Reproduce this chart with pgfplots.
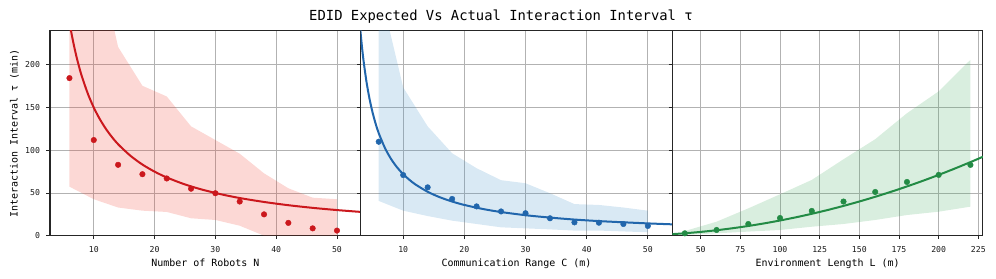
\documentclass[border=0pt]{standalone}
\usepackage{fontspec}
\setmainfont{DejaVu Sans Mono}
\usepackage{pgfplots}
\pgfplotsset{compat=1.18}
\definecolor{cred}{RGB}{203,24,29}
\definecolor{cblue}{RGB}{33,102,172}
\definecolor{cgreen}{RGB}{35,139,69}
\definecolor{fred}{RGB}{239,59,44}
\definecolor{fblue}{RGB}{66,146,198}
\definecolor{fgreen}{RGB}{65,171,93}
\pgfplotsset{
  panel/.style={
    anchor=south west, scale only axis, height=205bp,
    ymin=0, ymax=240,
    ytick={0,50,100,150,200},
    grid=major,
    major grid style={color=black!30, line width=0.9bp},
    axis line style={color=black!85, line width=1.1bp},
    tick align=outside,
    major tick length=3.5bp,
    every tick/.style={color=black!85, line width=0.9bp},
    xtick pos=bottom, ytick pos=left,
    /pgf/number format/assume math mode=true,
    ticklabel style={font=\fontsize{8.2}{9}\selectfont, color=black!90},
    xticklabel style={yshift=-3.5bp},
    yticklabel style={xshift=-3bp},
    label style={font=\fontsize{9.7}{11}\selectfont},
    every axis x label/.style={at={(axis description cs:0.5,0)}, anchor=base, yshift=-31bp},
    clip=true,
  }
}
\begin{document}
\begin{tikzpicture}
\path[use as bounding box] (0,0) rectangle (996bp,279bp);
\node[anchor=base, font=\fontsize{13.9}{16}\selectfont] at (501bp,258.3bp) {EDID Expected Vs Actual Interaction Interval τ};
% Left panel
\begin{axis}[panel, at={(50bp,43.3bp)}, width=310.7bp,
  xmin=2.8, xmax=53.9, xtick={10,20,30,40,50},
  xlabel={Number of Robots N},
  ylabel={Interaction Interval τ (min)},
  every axis y label/.style={at={(axis description cs:-0.1143,0.5)}, rotate=90, anchor=center},
]
\addplot[draw=none, fill=fred, fill opacity=0.2] coordinates {
 (6,500) (10,348) (14,221) (18,175.5) (22,163) (26,128) (30,112) (34,96) (38,73) (42,55.5) (46,44.5) (50,42.7)
 (50,0) (46,0) (42,0) (38,0) (34,11.7) (30,18.4) (26,20.4) (22,27.8) (18,29.3) (14,33) (10,42.7) (6,57.4)
} -- cycle;
\addplot[cred, line width=2bp, smooth, no marks] coordinates {
 (5,300) (5.5,272.7) (6,250) (6.5,230.8) (7,214.3) (7.5,200) (8,187.5) (9,166.7) (10,150) (11,136.4) (12,125) (13,115.4) (14,107.1) (16,93.75) (18,83.3) (20,75) (22,68.2) (25,60) (28,53.6) (31,48.4) (34,44.1) (38,39.5) (42,35.7) (46,32.6) (50,30) (54,27.8)
};
\addplot[only marks, mark=*, mark size=2.8bp, cred, mark options={draw=cred, fill=cred}] coordinates {
 (6,184.5) (10,112) (14,83) (18,72) (22,67) (26,55) (30,49.7) (34,40) (38,25) (42,15) (46,8.6) (50,6)
};
\end{axis}
% Middle panel
\begin{axis}[panel, at={(360.7bp,43.3bp)}, width=311.6bp,
  xmin=3.05, xmax=54, xtick={10,20,30,40,50},
  yticklabels={},
  xlabel={Communication Range C (m)},
]
\addplot[draw=none, fill=fblue, fill opacity=0.2] coordinates {
 (6,294) (10,173.6) (14,128) (18,96.5) (22,79) (26,65) (30,61.4) (34,49.7) (38,37) (42,36) (46,33) (50,29.3)
 (50,4) (46,5) (42,6) (38,6) (34,7.4) (30,8.6) (26,9.8) (22,13.7) (18,17.6) (14,23) (10,29.3) (6,40.7)
} -- cycle;
\addplot[cblue, line width=2bp, smooth, no marks] coordinates {
 (2.9,248.3) (3,240) (3.2,225) (3.5,205.7) (4,180) (4.5,160) (5,144) (5.5,130.9) (6,120) (7,102.9) (8,90) (9,80) (10,72) (11,65.5) (12,60) (14,51.4) (16,45) (18,40) (20,36) (23,31.3) (26,27.7) (30,24) (34,21.2) (38,18.9) (42,17.1) (46,15.7) (50,14.4) (54,13.3)
};
\addplot[only marks, mark=*, mark size=2.8bp, cblue, mark options={draw=cblue, fill=cblue}] coordinates {
 (6,110) (10,71) (14,56.6) (18,43) (22,34.3) (26,28.4) (30,26.3) (34,20.4) (38,15.6) (42,15.2) (46,13.7) (50,11.4)
};
\end{axis}
% Right panel
\begin{axis}[panel, at={(672.3bp,43.3bp)}, width=310.5bp,
  xmin=32.1, xmax=227.8, xtick={50,75,100,125,150,175,200,225},
  yticklabels={},
  xlabel={Environment Length L (m)},
]
\addplot[draw=none, fill=fgreen, fill opacity=0.2] coordinates {
 (40,5.5) (60,16.4) (80,32) (100,48.5) (120,65.3) (140,89.5) (160,113) (180,143.4) (200,169) (220,205.9)
 (220,34) (200,28.1) (180,24.2) (160,18.4) (140,13.7) (120,10.5) (100,6.7) (80,4.8) (60,2.8) (40,0.8)
} -- cycle;
\addplot[cgreen, line width=2bp, smooth, no marks] coordinates {
 (32,1.82) (40,2.85) (50,4.45) (60,6.41) (70,8.72) (80,11.39) (90,14.42) (100,17.8) (110,21.54) (120,25.63) (130,30.08) (140,34.89) (150,40.05) (160,45.57) (170,51.44) (180,57.67) (190,64.26) (200,71.2) (210,78.5) (220,86.15) (228,92.53)
};
\addplot[only marks, mark=*, mark size=2.8bp, cgreen, mark options={draw=cgreen, fill=cgreen}] coordinates {
 (40,2.8) (60,6.7) (80,13.7) (100,20.7) (120,29) (140,40) (160,51.2) (180,62.9) (200,71.2) (220,82.9)
};
\end{axis}
\end{tikzpicture}
\end{document}
